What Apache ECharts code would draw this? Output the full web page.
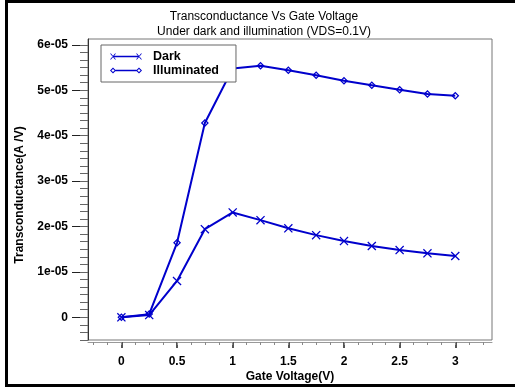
<!DOCTYPE html>
<html>
<head>
<meta charset="utf-8">
<style>
  html, body { margin: 0; padding: 0; background: #fff; }
  #chart { width: 515px; height: 389px; }
</style>
<script src="https://cdn.jsdelivr.net/npm/echarts@6/dist/echarts.min.js"></script>
</head>
<body>
<div id="chart"></div>
<script>
// Gate voltage sweep (V)
const voltage = [0, 0.25, 0.5, 0.75, 1.0, 1.25, 1.5, 1.75, 2.0, 2.25, 2.5, 2.75, 3.0];
// Transconductance (A/V) in the dark
const darkGm = [0.0, 0.05e-5, 0.80e-5, 1.94e-5, 2.31e-5, 2.14e-5, 1.96e-5, 1.81e-5, 1.68e-5, 1.57e-5, 1.48e-5, 1.41e-5, 1.35e-5];
// Transconductance (A/V) under illumination
const illumGm = [0.0, 0.07e-5, 1.64e-5, 4.28e-5, 5.48e-5, 5.54e-5, 5.44e-5, 5.33e-5, 5.21e-5, 5.11e-5, 5.01e-5, 4.92e-5, 4.88e-5];

const seriesNames = ['Dark', 'Illuminated'];
const xMajorTicks = [0, 0.5, 1, 1.5, 2, 2.5, 3];
const xTickLabels = ['0', '0.5', '1', '1.5', '2', '2.5', '3'];
const yMajorTicks = [0, 1e-5, 2e-5, 3e-5, 4e-5, 5e-5, 6e-5];
const yTickLabels = ['0', '1e-05', '2e-05', '3e-05', '4e-05', '5e-05', '6e-05'];

const X_MIN = -0.3, X_MAX = 3.33;
const Y_MIN = -0.5e-5, Y_MAX = 6.13e-5;

// minor tick positions: 1/8 V on x, 1/6 of a decade step on y
const xMinorTicks = [];
for (let i = -2; i <= 26; i++) xMinorTicks.push(i * 0.125);
const yMinorTicks = [];
for (let i = -3; i <= 36; i++) yMinorTicks.push(i * 1e-5 / 6);

const BLUE = '#0000cc';
const FONT = '"Liberation Sans", Arial, sans-serif';

// marker shapes
const crossPath = 'path://M0 1 L1 0 L5 4 L9 0 L10 1 L6 5 L10 9 L9 10 L5 6 L1 10 L0 9 L4 5 Z';
const diamondPath = 'path://M0 5 L5 0 L10 5 L5 10 Z M2.2 5 L5 7.8 L7.8 5 L5 2.2 Z';
// legend samples: line with a marker at each end
const darkIcon = 'path://M0 2 L1 2 L6 8 L5 8 Z M5 2 L6 2 L1 8 L0 8 Z M3 4.3 L29 4.3 L29 5.7 L3 5.7 Z M26 2 L27 2 L32 8 L31 8 Z M31 2 L32 2 L27 8 L26 8 Z';
const illumIcon = 'path://M0 5 L3 2 L6 5 L3 8 Z M1.4 5 L3 6.6 L4.6 5 L3 3.4 Z M5.5 4.3 L26.5 4.3 L26.5 5.7 L5.5 5.7 Z M26 5 L29 2 L32 5 L29 8 Z M27.4 5 L29 6.6 L30.6 5 L29 3.4 Z';

function pairs(xs, ys) { return xs.map((x, i) => [x, ys[i]]); }

const chart = echarts.init(document.getElementById('chart'), null, { renderer: 'canvas' });

chart.setOption({
  animation: false,
  backgroundColor: '#fff',
  grid: {
    left: 88, top: 39, width: 404, height: 301,
    show: true, borderColor: '#777', borderWidth: 1, backgroundColor: 'transparent'
  },
  legend: {
    orient: 'vertical',
    left: 101, top: 45,
    padding: [5, 17, 5, 9],
    itemWidth: 32, itemHeight: 7, itemGap: 1,
    backgroundColor: '#fff',
    borderColor: '#666', borderWidth: 1,
    itemStyle: { borderWidth: 0 },
    textStyle: { fontFamily: FONT, fontSize: 12.5, fontWeight: 'bold', color: '#000', lineHeight: 12, padding: [0, 0, 0, 6] },
    data: [
      { name: seriesNames[0], icon: darkIcon },
      { name: seriesNames[1], icon: illumIcon }
    ]
  },
  xAxis: [
    {
      type: 'value', min: X_MIN, max: X_MAX, offset: 2, position: 'bottom',
      axisLine: { show: true, onZero: false, lineStyle: { color: '#999', width: 1 } },
      axisTick: { show: true, customValues: xMajorTicks, length: 6, lineStyle: { color: '#555', width: 2 } },
      axisLabel: {
        show: true, customValues: xMajorTicks, margin: 14,
        fontFamily: FONT, fontSize: 12, fontWeight: 'bold', color: '#000',
        formatter: v => xTickLabels[xMajorTicks.findIndex(t => Math.abs(t - v) < 1e-9)]
      },
      splitLine: { show: false }
    },
    {
      type: 'value', min: X_MIN, max: X_MAX, offset: 2, position: 'bottom',
      axisLine: { show: false, onZero: false },
      axisTick: { show: true, customValues: xMinorTicks, length: 3, lineStyle: { color: '#888', width: 1 } },
      axisLabel: { show: false },
      splitLine: { show: false }
    }
  ],
  yAxis: [
    {
      type: 'value', min: Y_MIN, max: Y_MAX, position: 'left',
      axisLine: { show: true, onZero: false, lineStyle: { color: '#333', width: 1 } },
      axisTick: { show: true, customValues: yMajorTicks, length: 16, lineStyle: { color: '#222', width: 1 } },
      axisLabel: {
        show: true, customValues: yMajorTicks, margin: 20,
        fontFamily: FONT, fontSize: 12, fontWeight: 'bold', color: '#000',
        formatter: v => yTickLabels[yMajorTicks.findIndex(t => Math.abs(t - v) < 1e-12)]
      },
      splitLine: { show: false }
    },
    {
      type: 'value', min: Y_MIN, max: Y_MAX, position: 'left',
      axisLine: { show: false, onZero: false },
      axisTick: { show: true, customValues: yMinorTicks, length: 8, lineStyle: { color: '#666', width: 1 } },
      axisLabel: { show: false },
      splitLine: { show: false }
    }
  ],
  series: [
    {
      name: seriesNames[0], type: 'line',
      xAxisIndex: 0, yAxisIndex: 0,
      data: pairs(voltage, darkGm),
      symbol: crossPath, symbolSize: 9,
      lineStyle: { color: BLUE, width: 2 },
      itemStyle: { color: BLUE, borderWidth: 0 },
      z: 3
    },
    {
      name: seriesNames[1], type: 'line',
      xAxisIndex: 0, yAxisIndex: 0,
      data: pairs(voltage, illumGm),
      symbol: diamondPath, symbolSize: 8,
      lineStyle: { color: BLUE, width: 2 },
      itemStyle: { color: BLUE, borderWidth: 0 },
      z: 3
    }
  ],
  graphic: [
    {
      type: 'rect', silent: true, z: 100,
      shape: { x: 6.5, y: 1.5, width: 520, height: 384 },
      style: { fill: 'none', stroke: '#000', lineWidth: 3 }
    },
    {
      type: 'text', silent: true,
      x: 264, y: 9,
      style: {
        text: 'Transconductance Vs Gate Voltage\nUnder dark and illumination (VDS=0.1V)',
        fontFamily: FONT, fontSize: 12, lineHeight: 15, fill: '#000',
        align: 'center', verticalAlign: 'top'
      }
    },
    {
      type: 'text', silent: true,
      x: 290, y: 377,
      style: {
        text: 'Gate Voltage(V)', fontFamily: FONT, fontSize: 12, fontWeight: 'bold',
        fill: '#000', align: 'center', verticalAlign: 'middle'
      }
    },
    {
      type: 'text', silent: true,
      x: 20, y: 195, rotation: Math.PI / 2,
      style: {
        text: 'Transconductance(A /V)', fontFamily: FONT, fontSize: 12, fontWeight: 'bold',
        fill: '#000', align: 'center', verticalAlign: 'middle'
      }
    }
  ]
});
</script>
</body>
</html>
